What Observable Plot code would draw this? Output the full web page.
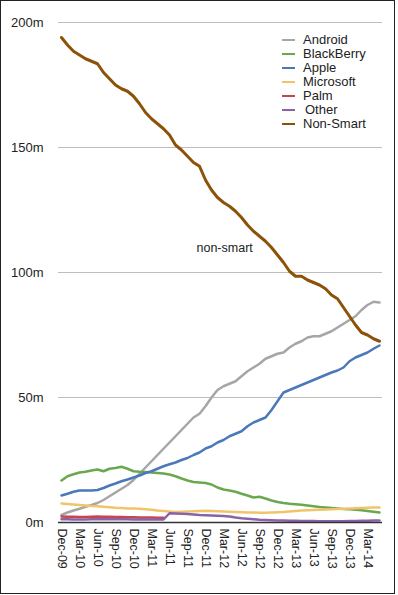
<!DOCTYPE html>
<html>
<head>
<meta charset="utf-8">
<script src="https://cdn.jsdelivr.net/npm/d3@7"></script>
<script src="https://cdn.jsdelivr.net/npm/@observablehq/plot@0.6"></script>
<style>
  html, body { margin: 0; padding: 0; background: #fff; }
  #wrap { position: relative; width: 398px; height: 595px; overflow: hidden; font-family: "Liberation Sans", Arial, sans-serif; }
  #frame { position: absolute; left: 0; top: 0; width: 393px; height: 592px; border: 1px solid #222; pointer-events: none; }
  #chart { position: absolute; left: 0; top: 0; }
  #legend { position: absolute; left: 282px; top: 33px; font-size: 13px; color: #222; line-height: 14px; }
  .row { display: flex; align-items: center; height: 14px; }
  .sw { width: 13px; height: 2.5px; margin-right: 8px; }
</style>
</head>
<body>
<div id="wrap">
  <div id="chart"></div>
  <div id="legend"></div>
  <div id="frame"></div>
</div>
<script>
// Months Dec-09 .. May-14
const months = d3.utcMonths(new Date(Date.UTC(2009, 11, 1)), new Date(Date.UTC(2014, 5, 1))).map(d3.utcFormat("%b-%y"));
const tickLabels = ["Dec-09","Mar-10","Jun-10","Sep-10","Dec-10","Mar-11","Jun-11","Sep-11","Dec-11","Mar-12","Jun-12","Sep-12","Dec-12","Mar-13","Jun-13","Sep-13","Dec-13","Mar-14"];
const yTicks = [0, 50, 100, 150, 200];

const seriesNames = ["Android","BlackBerry","Apple","Microsoft","Palm","Other","Non-Smart"];
const seriesColors = ["#a6a6a6","#6aa84f","#4a78b8","#f2c46a","#c8454f","#8a62a8","#8c5208"];

const android = [3,4,4.8,5.5,6.3,7,7.8,9,10.5,12,13.5,15,17,19.5,22,24.5,27,29.5,32,34.5,37,39.5,42,43.5,46.5,50,53,54.5,55.5,56.5,58.5,60.5,62,63.5,65.5,66.5,67.5,68,70,71.5,72.5,74,74.5,74.5,75.5,76.5,78,79.5,81,82.5,85,87,88.3,88];
const blackberry = [16.8,18.5,19.3,20,20.3,20.8,21.2,20.5,21.5,21.8,22.3,21.5,20.5,20.3,20.2,20,19.8,19.6,19.2,18.5,17.6,16.8,16.2,16,15.8,15.2,14,13.2,12.8,12.3,11.5,10.8,10,10.3,9.6,8.8,8.2,7.8,7.5,7.3,7.1,6.8,6.5,6.2,6,5.8,5.6,5.4,5.3,5.1,4.9,4.6,4.3,4];
const apple = [10.8,11.5,12.3,12.8,12.8,12.8,13,13.8,14.8,15.6,16.5,17.2,18,18.8,19.8,20.5,21.5,22.5,23.3,24,25,25.8,27,28,29.6,30.5,32,33,34.5,35.5,36.5,38.5,40,41,42,45,48.5,52,53,54,55,56,57,58,59,60,60.8,62,64.5,66,67,68,69.5,70.8];
const microsoft = [7.6,7.4,7.2,7,6.8,6.6,6.5,6.3,6.1,5.9,5.8,5.6,5.6,5.5,5.3,5.1,4.8,4.6,4.4,4.2,4.3,4.4,4.5,4.6,4.7,4.6,4.5,4.4,4.3,4.2,4.1,4,4,3.9,3.9,4,4.1,4.2,4.4,4.6,4.8,4.9,5,5.1,5.2,5.3,5.4,5.5,5.6,5.7,5.8,5.9,6,6];
const palm = [2.4,2.3,2.3,2.2,2.2,2.3,2.4,2.3,2.3,2.2,2.2,2.1,2.1,2,2,2,1.9,1.9];
const other = [1.3,1.3,1.2,1.2,1.2,1.3,1.3,1.3,1.3,1.3,1.3,1.3,1.2,1.2,1.2,1.2,1.2,1.2,3.7,3.6,3.5,3.4,3.2,3,2.9,2.8,2.7,2.6,2.4,2,1.7,1.5,1.3,1.1,1,0.9,0.8,0.8,0.7,0.7,0.6,0.6,0.6,0.5,0.5,0.5,0.5,0.5,0.6,0.6,0.7,0.7,0.8,0.8];
const nonSmart = [194,191,188.5,187,185.5,184.5,183.5,180,177.5,175,173.5,172.5,170.5,167.5,164,161.5,159.5,157.5,155,151,149,146.5,144,142.5,137,133,130,128,126.5,124.5,122,119,116.5,114.5,112.5,110,107,104,100.5,98.5,98.5,97,96,95,93.5,91,89.5,86,82.5,79,76,75,73.5,72.5];

const annotation = {label: "non-smart", month: "Oct-11", value: 110};

const allSeries = [android, blackberry, apple, microsoft, palm, other, nonSmart];
const rows = [];
allSeries.forEach((vals, s) => {
  vals.forEach((v, i) => rows.push({series: seriesNames[s], month: months[i], value: v}));
});

const chart = Plot.plot({
  width: 398,
  height: 595,
  marginLeft: 58,
  marginRight: 16,
  marginTop: 22,
  marginBottom: 73,
  style: {fontFamily: "'Liberation Sans', Arial, sans-serif", background: "transparent", color: "#222"},
  x: {type: "point", domain: months, padding: 0},
  y: {domain: [0, 200]},
  color: {domain: seriesNames, range: seriesColors},
  marks: [
    Plot.ruleY(yTicks.filter(d => d > 0), {stroke: "#bdbdbd", strokeWidth: 1}),
    Plot.axisY(yTicks, {tickSize: 0, tickPadding: 15, fontSize: 13, tickFormat: d => d + "m", label: null}),
    Plot.axisX(tickLabels, {tickSize: 0, tickPadding: 6, tickRotate: 90, fontSize: 12.5, label: null}),
    Plot.line(rows, {x: "month", y: "value", z: "series", stroke: "series",
      strokeWidth: d => d.series === "Non-Smart" ? 3 : 2.5, strokeLinejoin: "round", strokeLinecap: "round"}),
    Plot.ruleY([0], {stroke: "#333", strokeWidth: 1.5}),
    Plot.text([annotation], {x: "month", y: "value", text: "label", textAnchor: "start", dx: 3, fontSize: 12.5, fill: "#222"})
  ]
});
document.getElementById("chart").appendChild(chart);

const legend = document.getElementById("legend");
seriesNames.forEach((n, i) => {
  const r = document.createElement("div");
  r.className = "row";
  const sw = document.createElement("span");
  sw.className = "sw";
  sw.style.background = seriesColors[i];
  const t = document.createElement("span");
  t.textContent = n;
  if (n === "Other") t.style.marginLeft = "2px";
  r.appendChild(sw); r.appendChild(t);
  legend.appendChild(r);
});
</script>
</body>
</html>
